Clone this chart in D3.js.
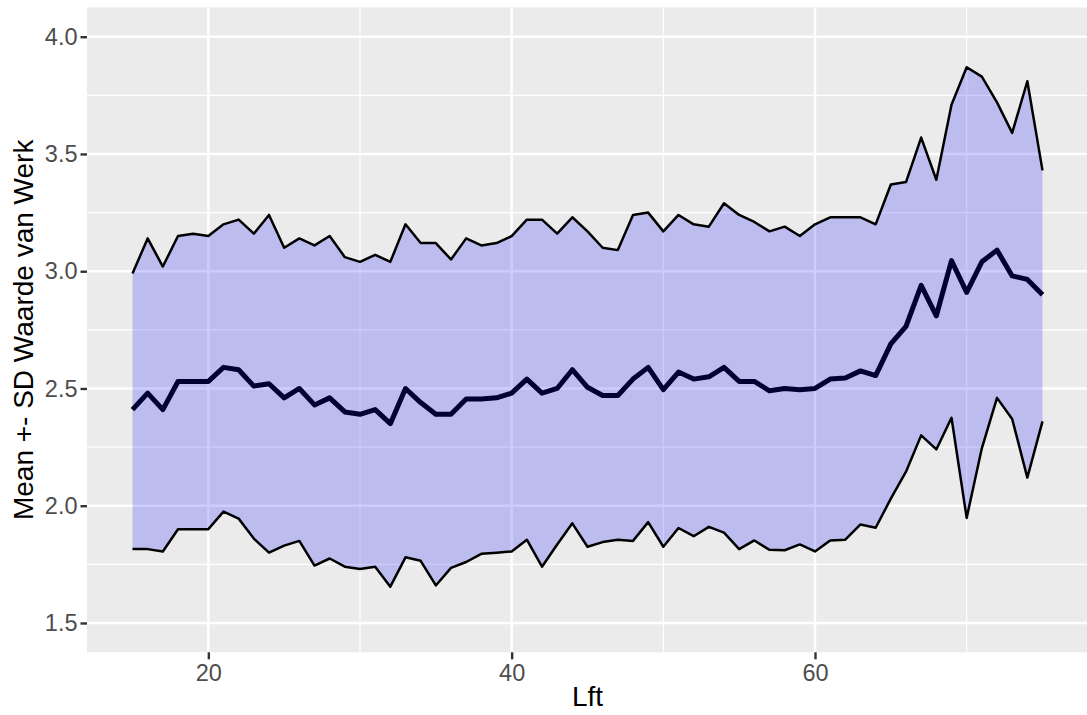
<!DOCTYPE html>
<html lang="en">
<head>
    <meta charset="utf-8">
    <style>
    body { margin: 0; background: #fff; }
    svg { display: block; font-family: "Liberation Sans", Arial, Helvetica, sans-serif; }
    .grid-major { stroke: #fff; stroke-width: 2.4px; }
    .grid-minor { stroke: #fff; stroke-width: 1.2px; }
    .tick text { fill: #4d4d4d; font-size: 23.5px; }
    .tick line { stroke: #333; stroke-width: 2.4px; }
    </style>
    <script src="https://cdn.jsdelivr.net/npm/d3@7"></script>
    <title>Mean +- SD Waarde van Werk</title>
</head>
<body>
<svg width="1087" height="715"></svg>
<script>
    // leeftijd (Lft)
    var ages = [15, 16, 17, 18, 19, 20, 21, 22, 23, 24,
        25, 26, 27, 28, 29, 30, 31, 32, 33, 34,
        35, 36, 37, 38, 39, 40, 41, 42, 43, 44,
        45, 46, 47, 48, 49, 50, 51, 52, 53, 54,
        55, 56, 57, 58, 59, 60, 61, 62, 63, 64,
        65, 66, 67, 68, 69, 70, 71, 72, 73, 74, 75];

    // mean + SD
    var upper = [2.99, 3.14, 3.02, 3.15, 3.16, 3.15, 3.20, 3.22, 3.16, 3.24,
        3.10, 3.14, 3.11, 3.15, 3.06, 3.04, 3.07, 3.04, 3.20, 3.12,
        3.12, 3.05, 3.14, 3.11, 3.12, 3.15, 3.22, 3.22, 3.16, 3.23,
        3.17, 3.10, 3.09, 3.24, 3.25, 3.17, 3.24, 3.20, 3.19, 3.29,
        3.24, 3.21, 3.17, 3.19, 3.15, 3.20, 3.23, 3.23, 3.23, 3.20,
        3.37, 3.38, 3.57, 3.39, 3.71, 3.87, 3.83, 3.72, 3.59, 3.81, 3.43];

    // mean
    var mean = [2.41, 2.48, 2.41, 2.53, 2.53, 2.53, 2.59, 2.58, 2.51, 2.52,
        2.46, 2.50, 2.43, 2.46, 2.40, 2.39, 2.41, 2.35, 2.50, 2.44,
        2.39, 2.39, 2.455, 2.455, 2.46, 2.48, 2.54, 2.48, 2.50, 2.58,
        2.505, 2.47, 2.47, 2.54, 2.59, 2.495, 2.57, 2.54, 2.55, 2.59,
        2.53, 2.53, 2.49, 2.50, 2.495, 2.50, 2.54, 2.545, 2.575, 2.555,
        2.69, 2.765, 2.94, 2.81, 3.045, 2.91, 3.04, 3.09, 2.98, 2.965, 2.90];

    // mean - SD
    var lower = [1.815, 1.815, 1.805, 1.90, 1.90, 1.90, 1.975, 1.945, 1.86, 1.80,
        1.83, 1.85, 1.745, 1.775, 1.74, 1.73, 1.74, 1.655, 1.78, 1.765,
        1.66, 1.735, 1.76, 1.795, 1.80, 1.805, 1.855, 1.74, 1.835, 1.925,
        1.825, 1.845, 1.855, 1.85, 1.93, 1.825, 1.905, 1.87, 1.91, 1.885,
        1.815, 1.852, 1.812, 1.81, 1.835, 1.805, 1.852, 1.855, 1.92, 1.906,
        2.03, 2.145, 2.30, 2.24, 2.375, 1.948, 2.245, 2.46, 2.37, 2.12, 2.36];

    var xMajor = [20, 40, 60],
        xMinor = [30, 50, 70],
        yMajor = [1.5, 2.0, 2.5, 3.0, 3.5, 4.0],
        yMinor = [1.75, 2.25, 2.75, 3.25, 3.75];

    var rows = ages.map(function(a, i) {
        return { age: a, lo: lower[i], mid: mean[i], hi: upper[i] };
    });

    var svg = d3.select("svg");
    var panel = { left: 87, right: 1088, top: 7.4, bottom: 652.3 };

    var x = d3.scaleLinear().domain([12, 78]).range([panel.left, panel.right]);
    var y = d3.scaleLinear().domain([1.375, 4.125]).range([panel.bottom, panel.top]);

    svg.append("clipPath").attr("id", "clip")
        .append("rect")
        .attr("x", panel.left).attr("y", panel.top)
        .attr("width", panel.right - panel.left)
        .attr("height", panel.bottom - panel.top);

    svg.append("rect")
        .attr("x", panel.left).attr("y", panel.top)
        .attr("width", panel.right - panel.left)
        .attr("height", panel.bottom - panel.top)
        .attr("fill", "#ebebeb");

    var grid = svg.append("g").attr("clip-path", "url(#clip)");

    grid.selectAll(".gy-min").data(yMinor).enter().append("line")
        .attr("class", "grid-minor")
        .attr("x1", panel.left).attr("x2", panel.right)
        .attr("y1", function(d) { return y(d); }).attr("y2", function(d) { return y(d); });
    grid.selectAll(".gx-min").data(xMinor).enter().append("line")
        .attr("class", "grid-minor")
        .attr("y1", panel.top).attr("y2", panel.bottom)
        .attr("x1", function(d) { return x(d); }).attr("x2", function(d) { return x(d); });
    grid.selectAll(".gy-maj").data(yMajor).enter().append("line")
        .attr("class", "grid-major")
        .attr("x1", panel.left).attr("x2", panel.right)
        .attr("y1", function(d) { return y(d); }).attr("y2", function(d) { return y(d); });
    grid.selectAll(".gx-maj").data(xMajor).enter().append("line")
        .attr("class", "grid-major")
        .attr("y1", panel.top).attr("y2", panel.bottom)
        .attr("x1", function(d) { return x(d); }).attr("x2", function(d) { return x(d); });

    var plot = svg.append("g").attr("clip-path", "url(#clip)");

    var line = function(key) {
        return d3.line()
            .x(function(d) { return x(d.age); })
            .y(function(d) { return y(d[key]); });
    };

    // mean first, the ribbon is laid over it
    plot.append("path")
        .datum(rows)
        .attr("d", line("mid"))
        .attr("fill", "none")
        .attr("stroke", "#000")
        .attr("stroke-width", 5)
        .attr("stroke-linejoin", "round");

    plot.append("path")
        .datum(rows)
        .attr("d", d3.area()
            .x(function(d) { return x(d.age); })
            .y0(function(d) { return y(d.lo); })
            .y1(function(d) { return y(d.hi); }))
        .attr("fill", "blue")
        .attr("fill-opacity", 0.2);

    ["hi", "lo"].forEach(function(k) {
        plot.append("path")
            .datum(rows)
            .attr("d", line(k))
            .attr("fill", "none")
            .attr("stroke", "#000")
            .attr("stroke-width", 2.5)
            .attr("stroke-linejoin", "round");
    });

    var xAxis = svg.append("g")
        .attr("transform", "translate(0," + panel.bottom + ")")
        .call(d3.axisBottom(x).tickValues(xMajor).tickSize(7).tickPadding(5.5));
    var yAxis = svg.append("g")
        .attr("transform", "translate(" + panel.left + ",0)")
        .call(d3.axisLeft(y).tickValues(yMajor).tickFormat(d3.format(".1f")).tickSize(6.5).tickPadding(3));
    xAxis.select(".domain").remove();
    yAxis.select(".domain").remove();

    svg.append("text")
        .attr("x", (panel.left + panel.right) / 2)
        .attr("y", 706)
        .attr("text-anchor", "middle")
        .style("font-size", "28px")
        .text("Lft");

    svg.append("text")
        .attr("transform", "translate(33," + ((panel.top + panel.bottom) / 2) + ") rotate(-90)")
        .attr("text-anchor", "middle")
        .style("font-size", "28px")
        .text("Mean +- SD Waarde van Werk");
</script>
</body>
</html>
